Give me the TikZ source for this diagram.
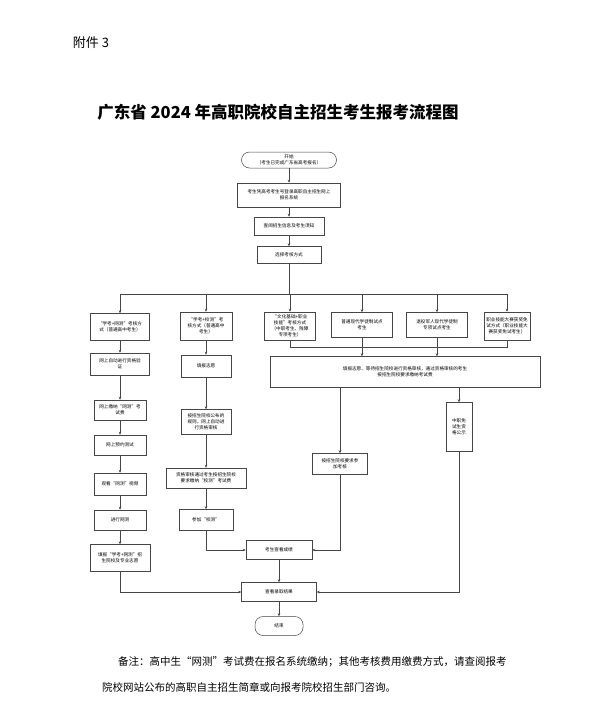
\documentclass[tikz,border=0pt]{standalone}
\usepackage{fontspec}
\setmainfont{Noto Sans CJK SC}
\XeTeXlinebreaklocale "zh"
\XeTeXlinebreakskip = 0pt plus 1pt
\usetikzlibrary{arrows.meta, positioning}
\definecolor{lineclr}{RGB}{70,70,70}
\tikzset{
  module/.style={rectangle, draw=lineclr, fill=white, line width=0.5pt,
    align=center, inner sep=1pt, font=\fontsize{4.6}{6}\selectfont},
  terminal/.style={module, rounded corners=8pt},
  arrow/.style={-{Stealth[length=3pt,width=2.6pt]}, line width=0.5pt, color=lineclr},
  link/.style={line width=0.5pt, color=lineclr},
  notetext/.style={anchor=west, inner sep=0pt, font=\fontsize{10.5}{13}\selectfont},
}

\begin{document}
\begin{tikzpicture}[x=1pt, y=-1pt]
  \fill[white] (0,0) rectangle (592,713);
  \useasboundingbox (0,0) rectangle (592,713);

  \node[font=\fontsize{13}{15}\selectfont] (annex) at (91,43) {附件 3};
  \node[font=\bfseries\fontsize{16.5}{20}\selectfont] (title) at (278,112)
    {广东省 2024 年高职院校自主招生考生报考流程图};

  % common steps
  \node[terminal, minimum width=95pt, minimum height=16pt] (start) at (289,160)
    {开始\\（考生已完成广东省高考报名）};
  \node[module, minimum width=103pt, minimum height=24pt] (login) at (289,195)
    {考生凭高考考生号登录高职自主招生网上\\报名系统};
  \node[module, minimum width=70pt, minimum height=18pt] (info) at (289,226)
    {查阅招生信息及考生须知};
  \node[module, minimum width=64pt, minimum height=17pt] (choose) at (289,255)
    {选择考核方式};

  % six ways
  \node[module, minimum width=59pt, minimum height=27pt] (net1) at (120,327)
    {“学考+网测”考核方\\式（普通高中考生）};
  \node[module, minimum width=52pt, minimum height=28pt] (sch1) at (206,326)
    {“学考+校测”考\\核方式（普通高中\\考生）};
  \node[module, minimum width=51pt, minimum height=28pt] (skill) at (290,326)
    {“文化基础+职业\\技能”考核方式\\（中职考生、残障\\专项考生）};
  \node[module, minimum width=61pt, minimum height=25pt] (apprent) at (362,325)
    {普通现代学徒制试点\\考生};
  \node[module, minimum width=61pt, minimum height=25pt] (veteran) at (437,325)
    {退役军人现代学徒制\\专项试点考生};
  \node[module, minimum width=46pt, minimum height=28pt] (contest) at (507,326)
    {职业技能大赛获奖免\\试方式（职业技能大\\赛获奖免试考生）};

  % net test column
  \node[module, minimum width=59pt, minimum height=22pt] (net2) at (120,364)
    {网上自动进行资格验\\证};
  \node[module, minimum width=52pt, minimum height=20pt] (net3) at (120,410)
    {网上缴纳“网测”考\\试费};
  \node[module, minimum width=52pt, minimum height=20pt] (net4) at (120,445)
    {网上预约测试};
  \node[module, minimum width=52pt, minimum height=22pt] (net5) at (120,484)
    {观看“网测”视频};
  \node[module, minimum width=52pt, minimum height=20pt] (net6) at (120,520)
    {进行网测};
  \node[module, minimum width=60pt, minimum height=27pt] (net7) at (120,558)
    {填报“学考+网测”招\\生院校及专业志愿};

  % school test column
  \node[module, minimum width=50pt, minimum height=22pt] (sch2) at (206,366)
    {填报志愿};
  \node[module, minimum width=50pt, minimum height=25pt] (sch3) at (206,422)
    {按招生院校公布的\\规则，网上自动进\\行资格审核};
  \node[module, minimum width=80pt, minimum height=20pt] (sch4) at (206,478)
    {资格审核通过考生按招生院校\\要求缴纳“校测”考试费};
  \node[module, minimum width=54pt, minimum height=21pt] (sch5) at (206,520)
    {参加“校测”};

  % other ways
  \node[module, minimum width=270pt, minimum height=31pt] (review) at (405,372)
    {填报志愿、等待招生院校进行资格审核，通过资格审核的考生\\按招生院校要求缴纳考试费};
  \node[module, minimum width=26pt, minimum height=49pt] (publicity) at (459,427)
    {中职免\\试生资\\格公示};
  \node[module, minimum width=55pt, minimum height=21pt] (assess) at (340,464)
    {按招生院校要求参\\加考核};

  % results
  \node[module, minimum width=66pt, minimum height=19pt] (score) at (279,550)
    {考生查看成绩};
  \node[module, minimum width=75pt, minimum height=19pt] (result) at (279,592)
    {查看录取结果};
  \node[terminal, minimum width=48pt, minimum height=19pt] (finish) at (279,626)
    {结束};

  \node[notetext] (note1) at (118,662)
    {\makebox[414pt][s]{备注：高中生“网测”考试费在报名系统缴纳；其他考核费用缴费方式，请查阅报考}};
  \node[notetext] (note2) at (102,687)
    {院校网站公布的高职自主招生简章或向报考院校招生部门咨询。};

  \coordinate (bar) at (289,294);
  \coordinate (merge) at (289,347);

  \draw[arrow] (start) -- (login);
  \draw[arrow] (login) -- (info);
  \draw[arrow] (info) -- (choose);
  \draw[link] (choose) -- (bar);
  \draw[link] (net1.north |- bar) -- (contest.north |- bar);
  \foreach \n in {net1, sch1, skill, apprent, veteran, contest}
    \draw[arrow] (\n.north |- bar) -- (\n.north);

  \foreach \a/\b in {net1/net2, net2/net3, net3/net4, net4/net5, net5/net6, net6/net7,
                     sch1/sch2, sch2/sch3, sch3/sch4, sch4/sch5}
    \draw[arrow] (\a) -- (\b);

  \draw[link] (skill.south) -- (skill.south |- merge) -- (contest.south |- merge) -- (contest.south);
  \draw[link] (apprent.south) -- (apprent.south |- merge);
  \draw[link] (veteran.south) -- (veteran.south |- merge);
  \draw[arrow] (apprent.south |- merge) -- (apprent.south |- review.north);
  \draw[arrow] (veteran.south |- merge) -- (veteran.south |- review.north);

  \draw[arrow] (review.south -| assess.north) -- (assess.north);
  \draw[arrow] (review.south -| publicity.north) -- (publicity.north);

  \draw[arrow] (sch5.south) |- (score.west);
  \draw[arrow] (assess.south) |- (score.east);
  \draw[arrow] (net7.south) |- (result.west);
  \draw[arrow] (publicity.south) |- (result.east);
  \draw[arrow] (score) -- (result);
  \draw[arrow] (result) -- (finish);
\end{tikzpicture}
\end{document}
